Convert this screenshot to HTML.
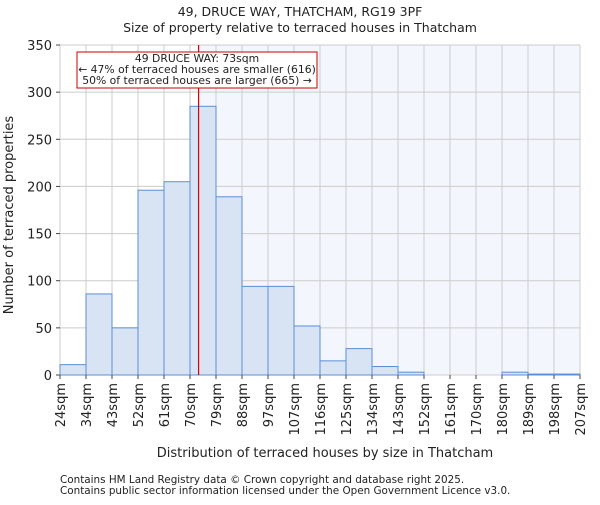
<!DOCTYPE html>
<html><head><meta charset="utf-8"><style>
body{margin:0;background:#fff;}
svg text{font-family:"DejaVu Sans","Liberation Sans",sans-serif;fill:#222;}
</style></head><body>
<svg id="c" width="600" height="500">
<text x="300" y="16" text-anchor="middle" font-size="12.5">49, DRUCE WAY, THATCHAM, RG19 3PF</text>
<text x="300" y="32" text-anchor="middle" font-size="12.5">Size of property relative to terraced houses in Thatcham</text>
<g id="plot"></g>
<text x="325" y="457" text-anchor="middle" font-size="13">Distribution of terraced houses by size in Thatcham</text>
<text transform="translate(13,215) rotate(-90)" text-anchor="middle" font-size="13">Number of terraced properties</text>
<text x="60" y="483" font-size="10.4" fill="#444">Contains HM Land Registry data © Crown copyright and database right 2025.</text>
<text x="60" y="494" font-size="10.4" fill="#444">Contains public sector information licensed under the Open Government Licence v3.0.</text>
</svg>
<script>
const categories=["24sqm","34sqm","43sqm","52sqm","61sqm","70sqm","79sqm","88sqm","97sqm","107sqm","116sqm","125sqm","134sqm","143sqm","152sqm","161sqm","170sqm","180sqm","189sqm","198sqm","207sqm"];
const counts=[11,86,50,196,205,285,189,94,94,52,15,28,9,3,0,0,0,3,1,1];
const yTicks=[0,50,100,150,200,250,300,350];
const markerBin=5.33;
const NS="http://www.w3.org/2000/svg";
const L=60,R=580,T=45,B=375,yMax=350;
const bw=(R-L)/counts.length;
const xs=i=>L+i*bw;
const ys=v=>B-v/yMax*(B-T);
const g=document.getElementById('plot');
function mk(t,a,p){const e=document.createElementNS(NS,t);for(const k in a)e.setAttribute(k,a[k]);(p||g).appendChild(e);return e;}
const mx=xs(markerBin);
let e=mk('rect',{x:mx,y:T,width:R-mx,height:B-T,fill:'#f3f6fd'});


for(let i=0;i<=counts.length;i++){e=mk('line',{x1:xs(i),x2:xs(i),y1:T,y2:B,stroke:'#ccc'});

}
yTicks.forEach(v=>{e=mk('line',{x1:L,x2:R,y1:ys(v),y2:ys(v),stroke:'#ccc'});


e=mk('line',{x1:L-4,x2:L,y1:ys(v),y2:ys(v),stroke:'#444'});


e=mk('text',{x:L-8,y:ys(v)+5,'text-anchor':'end','font-size':13});e.textContent=v;

});
counts.forEach((c,i)=>{e=mk('rect',{x:xs(i),y:ys(c),width:bw,height:B-ys(c),fill:'#d8e3f4',stroke:'#5b8fd6','stroke-width':1});

});
categories.forEach((c,i)=>{const x=xs(i);
e=mk('line',{x1:x,x2:x,y1:B,y2:B+4,stroke:'#444'});


e=mk('text',{transform:`translate(${x+5},${B+8}) rotate(-90)`,'text-anchor':'end','font-size':13});e.textContent=c;

});
e=mk('line',{x1:mx,x2:mx,y1:T,y2:B,stroke:'#d00','stroke-width':1.2});


const ann=mk('g',{});


mk('rect',{x:77,y:52,width:240,height:36,fill:'#fff',stroke:'#c00','stroke-width':1},ann);
[["49 DRUCE WAY: 73sqm",62],["← 47% of terraced houses are smaller (616)",73],["50% of terraced houses are larger (665) →",84]].forEach(([t,y])=>{const tx=mk('text',{x:197,y:y,'text-anchor':'middle','font-size':10.8},ann);tx.textContent=t;});
</script>
</body></html>
